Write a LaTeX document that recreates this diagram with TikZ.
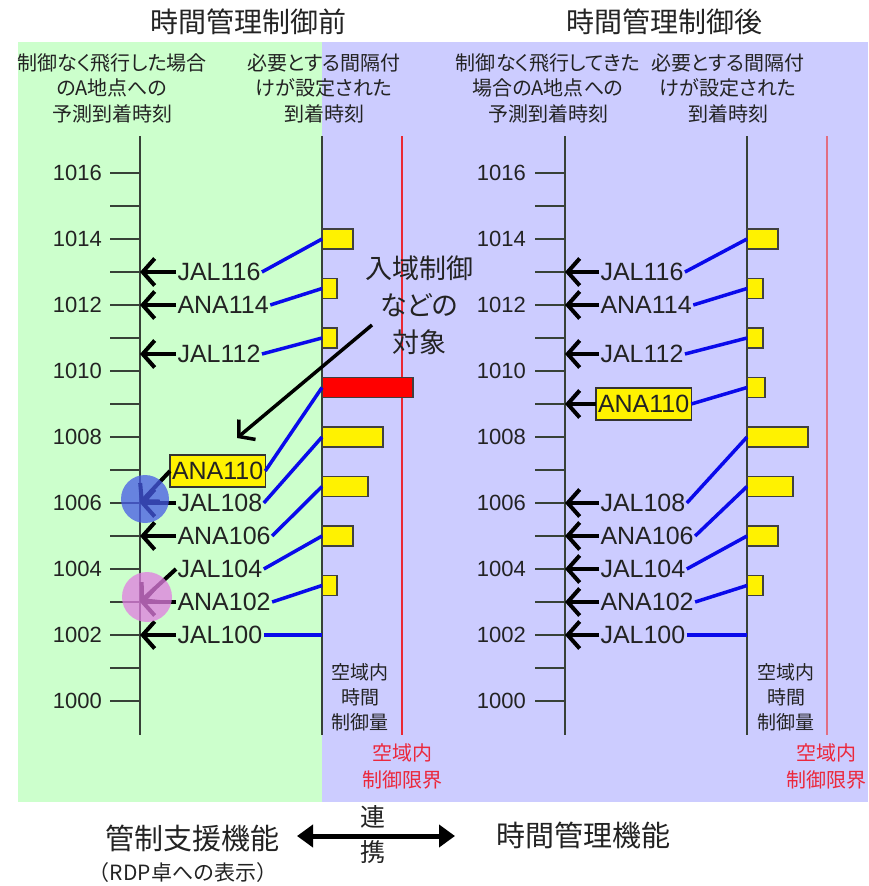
\documentclass[tikz,border=0pt]{standalone}
\usepackage{fontspec}
\setmainfont{Noto Sans CJK JP}[RawFeature=+palt]
\newfontfamily\lat{Liberation Sans}
\newfontfamily\cjkfull{Noto Sans CJK JP}
\usetikzlibrary{arrows.meta}
\definecolor{bggreen}{RGB}{204,255,204}
\definecolor{bgblue}{RGB}{204,204,255}
\definecolor{axisc}{RGB}{55,65,55}
\definecolor{lineblue}{RGB}{10,10,235}
\definecolor{limitred}{RGB}{235,40,50}
\definecolor{limitpink}{RGB}{225,110,130}
\definecolor{txt}{RGB}{35,35,35}
\definecolor{redtxt}{RGB}{235,40,60}
\definecolor{circblue}{RGB}{70,90,230}
\definecolor{circpink}{RGB}{225,125,225}
\begin{document}
\begin{tikzpicture}[x=1pt,y=-1pt,
  title/.style={font=\fontsize{28}{32}\selectfont, text=txt, inner sep=0},
  hdr/.style={font=\fontsize{20}{25.5}\selectfont, text=txt, align=center, inner sep=0},
  axis/.style={draw=axisc, line width=1.6pt},
  tick/.style={draw=axisc, line width=1.6pt},
  num/.style={font=\lat\fontsize{22}{26}\selectfont, text=txt, anchor=east, inner sep=0},
  flt/.style={font=\lat\fontsize{25}{30}\selectfont, text=txt, inner sep=1.5pt, outer sep=0, anchor=west},
  fltbox/.style={flt, fill=yellow, draw=black!80, line width=1.2pt, minimum height=32pt, inner sep=2pt},
  arr/.style={draw=black, line width=4pt, -{Straight Barb[length=12pt,width=27pt]}},
  conn/.style={draw=lineblue, line width=3.5pt},
  bar/.style={draw=black!75, fill=yellow, line width=1.5pt, minimum height=20pt, inner sep=0, outer sep=0, anchor=west},
  redbar/.style={bar, fill=red},
  small/.style={font=\fontsize{19}{25}\selectfont, text=txt, align=center, inner sep=0},
  redlab/.style={font=\fontsize{20}{27}\selectfont, text=redtxt, align=center, inner sep=0},
  big/.style={font=\fontsize{29}{34}\selectfont, text=txt, inner sep=0},
]
\useasboundingbox (0,0) rectangle (868,886);
% backgrounds
\fill[bggreen] (18,42) rectangle (322,802);
\fill[bgblue] (322,42) rectangle (868,802);

% titles
\node[title] (t1) at (248,22) {時間管理制御前};
\node[title] (t2) at (664,22) {時間管理制御後};

% headers
\node[hdr] (h1) at (112,88) {制御なく飛行した場合\\のA地点への\\予測到着時刻};
\node[hdr] (h2) at (324,88) {必要とする間隔付\\けが設定された\\到着時刻};
\node[hdr] (h3) at (548,88) {制御なく飛行してきた\\場合のA地点への\\予測到着時刻};
\node[hdr] (h4) at (728,88) {必要とする間隔付\\けが設定された\\到着時刻};

% ===== left panel =====
\draw[axis] (140,136) -- (140,735);
\draw[axis] (322,136) -- (322,735);
\draw[draw=limitred, line width=1.5pt] (402,136) -- (402,735);
\foreach \v in {1000,...,1016} \draw[tick] (110,{173+(1016-\v)*33}) -- (140,{173+(1016-\v)*33});
\foreach \v in {1000,1002,...,1016} \node[num] (ln\v) at (102,{173+(1016-\v)*33}) {\v};

\node[flt] (L116) at (176,272) {JAL116};
\node[flt] (L114) at (176,305) {ANA114};
\node[flt] (L112) at (176,354) {JAL112};
\node[fltbox] (L110) at (170,471) {ANA110};
\node[flt] (L108) at (176,503) {JAL108};
\node[flt] (L106) at (176,536) {ANA106};
\node[flt] (L104) at (176,569) {JAL104};
\node[flt] (L102) at (176,602) {ANA102};
\node[flt] (L100) at (176,635) {JAL100};

\coordinate (La116) at (140,272);
\coordinate (La114) at (140,305);
\coordinate (La112) at (140,354);
\coordinate (La108) at (140,503);
\coordinate (La106) at (140,536);
\coordinate (La102) at (140,602);
\coordinate (La100) at (140,635);

\draw[arr] (L116.west) -- (La116);
\draw[arr] (L114.west) -- (La114);
\draw[arr] (L112.west) -- (La112);
\draw[arr] (L110.west) -- (La108);
\draw[arr] (L108.west) -- (La108);
\draw[arr] (L106.west) -- (La106);
\draw[arr] (L104.west) -- (La102);
\draw[arr] (L102.west) -- (La102);
\draw[arr] (L100.west) -- (La100);

\node[bar, minimum width=31pt] (LB116) at (322,239) {};
\node[bar, minimum width=15pt] (LB114) at (322,288.5) {};
\node[bar, minimum width=15pt] (LB112) at (322,338) {};
\node[redbar, minimum width=91pt] (LB110) at (322,387.5) {};
\node[bar, minimum width=61pt] (LB108) at (322,437) {};
\node[bar, minimum width=46pt] (LB106) at (322,486.5) {};
\node[bar, minimum width=31pt] (LB104) at (322,536) {};
\node[bar, minimum width=15pt] (LB102) at (322,585.5) {};
\coordinate (LB100) at (322,635);

\draw[conn] (L116.east) -- (LB116.west);
\draw[conn] (L114.east) -- (LB114.west);
\draw[conn] (L112.east) -- (LB112.west);
\draw[conn] (L110.east) -- (LB110.west);
\draw[conn] (L108.east) -- (LB108.west);
\draw[conn] (L106.east) -- (LB106.west);
\draw[conn] (L104.east) -- (LB104.west);
\draw[conn] (L102.east) -- (LB102.west);
\draw[conn] (L100.east) -- (LB100);

\fill[circblue, opacity=0.75] (145,499) circle (24);
\fill[circpink, opacity=0.75] (147,597) circle (25);

% annotation
\node[font=\fontsize{27}{37}\selectfont, text=txt, align=center, inner sep=0] (note) at (419,305) {入域制御\\などの\\対象};
\coordinate (noteTail) at (372,325);
\coordinate (noteTip) at (237,438);
\draw[draw=black, line width=3.5pt, -{Straight Barb[length=11pt,width=26pt]}] (noteTail) -- (noteTip);

\node[small] (lq1) at (360,697) {空域内\\時間\\制御量};
\node[redlab] (lr1) at (402,766) {空域内\\制御限界};

% ===== right panel =====
\draw[axis] (565,136) -- (565,735);
\draw[axis] (747,136) -- (747,735);
\draw[draw=limitpink, line width=2pt] (827,136) -- (827,735);
\foreach \v in {1000,...,1016} \draw[tick] (535,{173+(1016-\v)*33}) -- (565,{173+(1016-\v)*33});
\foreach \v in {1000,1002,...,1016} \node[num] (rn\v) at (526,{173+(1016-\v)*33}) {\v};

\node[flt] (R116) at (599,272) {JAL116};
\node[flt] (R114) at (599,305) {ANA114};
\node[flt] (R112) at (599,354) {JAL112};
\node[fltbox] (R110) at (596,404) {ANA110};
\node[flt] (R108) at (599,503) {JAL108};
\node[flt] (R106) at (599,536) {ANA106};
\node[flt] (R104) at (599,569) {JAL104};
\node[flt] (R102) at (599,602) {ANA102};
\node[flt] (R100) at (599,635) {JAL100};

\coordinate (Ra116) at (565,272);
\coordinate (Ra114) at (565,305);
\coordinate (Ra112) at (565,354);
\coordinate (Ra110) at (565,404);
\coordinate (Ra108) at (565,503);
\coordinate (Ra106) at (565,536);
\coordinate (Ra104) at (565,569);
\coordinate (Ra102) at (565,602);
\coordinate (Ra100) at (565,635);

\draw[arr] (R116.west) -- (Ra116);
\draw[arr] (R114.west) -- (Ra114);
\draw[arr] (R112.west) -- (Ra112);
\draw[arr] (R110.west) -- (Ra110);
\draw[arr] (R108.west) -- (Ra108);
\draw[arr] (R106.west) -- (Ra106);
\draw[arr] (R104.west) -- (Ra104);
\draw[arr] (R102.west) -- (Ra102);
\draw[arr] (R100.west) -- (Ra100);

\node[bar, minimum width=31pt] (RB116) at (747,239) {};
\node[bar, minimum width=16pt] (RB114) at (747,288.5) {};
\node[bar, minimum width=16pt] (RB112) at (747,338) {};
\node[bar, minimum width=18pt] (RB110) at (747,387.5) {};
\node[bar, minimum width=61pt] (RB108) at (747,437) {};
\node[bar, minimum width=46pt] (RB106) at (747,486.5) {};
\node[bar, minimum width=31pt] (RB104) at (747,536) {};
\node[bar, minimum width=16pt] (RB102) at (747,585.5) {};
\coordinate (RB100) at (747,635);

\draw[conn] (R116.east) -- (RB116.west);
\draw[conn] (R114.east) -- (RB114.west);
\draw[conn] (R112.east) -- (RB112.west);
\draw[conn] (R110.east) -- (RB110.west);
\draw[conn] (R108.east) -- (RB108.west);
\draw[conn] (R106.east) -- (RB106.west);
\draw[conn] (R104.east) -- (RB104.west);
\draw[conn] (R102.east) -- (RB102.west);
\draw[conn] (R100.east) -- (RB100);

\node[small] (lq2) at (786,697) {空域内\\時間\\制御量};
\node[redlab] (lr2) at (826,766) {空域内\\制御限界};

% ===== bottom =====
\node[big] (f1) at (192,838) {管制支援機能};
\node[font=\cjkfull\fontsize{21}{25}\selectfont, text=txt, inner sep=0] (f1s) at (183,873) {（RDP卓への表示）};
\node[big] (f2) at (583,835) {時間管理機能};
\coordinate (dL) at (297,836);
\coordinate (dR) at (455,836);
\draw[draw=black, line width=5pt, {Triangle[length=16pt,width=22pt]}-{Triangle[length=16pt,width=22pt]}] (dL) -- (dR);
\node[font=\fontsize{25}{30}\selectfont, text=txt, inner sep=0] (k1) at (373,817) {連};
\node[font=\fontsize{25}{30}\selectfont, text=txt, inner sep=0] (k2) at (373,852) {携};
\end{tikzpicture}
\end{document}
